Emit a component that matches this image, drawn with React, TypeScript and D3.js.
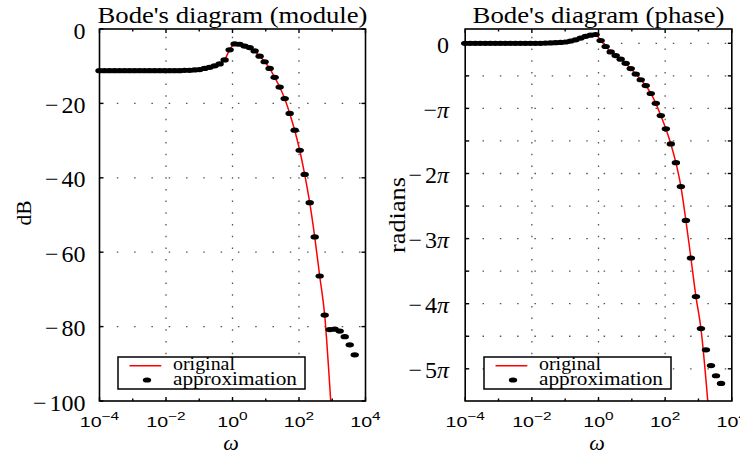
import * as d3 from "d3";

// frequencies of the approximation points (rad/s)
const omega = [
  1.0e-4, 1.41e-4, 2.0e-4, 2.83e-4, 4.0e-4, 5.66e-4, 8.0e-4, 1.13e-3, 1.6e-3, 2.26e-3, 3.2e-3, 4.53e-3, 6.4e-3,
  9.05e-3, 0.0128, 0.0181, 0.0256, 0.0362, 0.0512, 0.0724, 0.102, 0.145, 0.205, 0.29, 0.41, 0.579,
  0.819, 1.16, 1.64, 2.32, 3.28, 4.63, 6.55, 9.27, 13.1, 18.5, 26.2, 37.1, 52.4,
  74.1, 105, 148, 210, 297, 419, 593, 839, 1186, 1678, 2373, 3355, 4745,
];
const approxDb = [
  -11.2, -11.2, -11.2, -11.2, -11.2, -11.2, -11.2, -11.2, -11.2, -11.2, -11.2, -11.2, -11.2,
  -11.2, -11.2, -11.2, -11.2, -11.1, -11.1, -11.0, -10.9, -10.6, -10.3, -9.9, -9.4, -8.3,
  -5.6, -4.0, -4.1, -4.6, -5.0, -5.9, -7.3, -8.8, -10.6, -13.0, -15.6, -18.7, -22.7,
  -27.2, -32.6, -39.1, -46.7, -55.9, -66.4, -76.9, -80.8, -80.7, -81.2, -82.7, -84.9, -87.6,
];
const approxPhase = [
  0, 0, 0, 0, 0, 0, 0, 0, 0, 0, 0, 0, 0,
  0, 0, 0, 0.009, 0.019, 0.031, 0.041, 0.063, 0.11, 0.17, 0.254, 0.336, 0.393,
  0.424, 0.135, -0.154, -0.415, -0.594, -0.767, -0.968, -1.219, -1.483, -1.759, -2.039, -2.422, -2.897,
  -3.487, -4.128, -4.857, -5.762, -6.915, -8.548, -10.361, -12.224, -13.766, -14.794, -15.551, -16.044, -16.415,
];

// original transfer function
const origOmega = [
  1e-4, 0.01, 0.0512, 0.102, 0.205, 0.41, 0.579, 0.819, 1.16, 1.64, 2.32, 3.28, 4.63, 6.55, 9.27,
  13.1, 18.5, 26.2, 37.1, 52.4, 74.1, 105, 148, 210, 297, 419, 593, 839, 1186, 2000,
];
const origDb = [
  -11.2, -11.2, -11.1, -10.9, -10.3, -9.4, -8.3, -5.6, -4.0, -4.1, -4.6, -5.0, -5.9, -7.3, -8.8,
  -10.6, -13.0, -15.6, -18.7, -22.7, -27.2, -32.6, -39.1, -46.7, -55.9, -66.4, -76.9, -95.8, -117, -150,
];
const origPhase = [
  0, 0, 0.031, 0.063, 0.17, 0.336, 0.393, 0.424, 0.135, -0.154, -0.415, -0.594, -0.767, -0.968, -1.219,
  -1.483, -1.759, -2.039, -2.422, -2.897, -3.487, -4.128, -4.857, -5.762, -6.915, -8.548, -10.361, -12.224, -13.766, -17.69,
];

const decades = [1e-4, 1e-3, 1e-2, 1e-1, 1, 10, 1e2, 1e3, 1e4];
const labelledDecades = [1e-4, 1e-2, 1, 1e2, 1e4];
const decadeExponents = ["\u22124", "\u22122", "0", "2", "4"];
const gridDecades = [1e-2, 1, 1e2];

const dbTicks = [0, -20, -40, -60, -80, -100];
const dbLabels = ["0", "\u221220", "\u221240", "\u221260", "\u221280", "\u2212100"];
const piTicks = [0, -0.5, -1, -1.5, -2, -2.5, -3, -3.5, -4, -4.5, -5];
const piLabelTicks = [0, -1, -2, -3, -4, -5];
const piLabels = ["0", "\u2212\u03c0", "\u22122\u03c0", "\u22123\u03c0", "\u22124\u03c0", "\u22125\u03c0"];

const serif = "'Liberation Serif', 'DejaVu Serif', serif";
const sans = "'Liberation Sans', Arial, sans-serif";

const TOP = 29;
const BOTTOM = 401;

type PanelProps = {
  id: string;
  left: number;
  right: number;
  yDomain: [number, number];
  yTicks: number[];
  yLabelValues: number[];
  yLabels: string[];
  title: string;
  titleWidth: number;
  yTitle: string;
  yTitleX: number;
  yTitleY: number;
  yTitleSize: number;
  yTitleLen: number;
  labelX: number;
  approx: number[];
  orig: number[];
  legendX: number;
};

function TickLabel({ text, x, y }: { text: string; x: number; y: number }) {
  // minus sign, digits, italic pi
  let rest = text;
  let minus = false;
  if (rest.startsWith("\u2212")) {
    minus = true;
    rest = rest.slice(1);
  }
  let pi = false;
  if (rest.endsWith("\u03c0")) {
    pi = true;
    rest = rest.slice(0, -1);
  }
  return (
    <text x={x} y={y} textAnchor="end" fontFamily={serif} fontSize={24}>
      {minus && <tspan>{"\u2212"}</tspan>}
      {minus && <tspan dx={3}>{rest}</tspan>}
      {!minus && rest && <tspan>{rest}</tspan>}
      {pi && <tspan fontStyle="italic">{"\u03c0"}</tspan>}
    </text>
  );
}

function BodePanel(p: PanelProps) {
  const x = d3.scaleLog().domain([1e-4, 1e4]).range([p.left, p.right]);
  const y = d3.scaleLinear().domain(p.yDomain).range([BOTTOM, TOP]);
  const line = d3
    .line<number>()
    .x((_, i) => x(origOmega[i]))
    .y((d) => y(d))
    .curve(d3.curveMonotoneX);
  const mid = (p.left + p.right) / 2;
  const gridColor = "#555";

  return (
    <g>
      <defs>
        <clipPath id={`clip-${p.id}`}>
          <rect x={p.left} y={TOP} width={p.right - p.left} height={BOTTOM - TOP} />
        </clipPath>
      </defs>

      {/* grid */}
      {p.yTicks
        .filter((v) => y(v) > TOP + 2 && y(v) < BOTTOM - 2)
        .map((v) => (
          <line
            key={`hg${v}`}
            x1={p.left}
            x2={p.right}
            y1={y(v)}
            y2={y(v)}
            stroke={gridColor}
            strokeWidth={1.3}
            strokeDasharray="1.5 15.8"
          />
        ))}
      {gridDecades.map((d) => (
        <line
          key={`vg${d}`}
          x1={x(d)}
          x2={x(d)}
          y1={BOTTOM}
          y2={TOP}
          stroke={gridColor}
          strokeWidth={1.3}
          strokeDasharray="1.5 10.2"
        />
      ))}

      {/* original */}
      <path
        d={line(p.orig) ?? ""}
        fill="none"
        stroke="#ff0000"
        strokeWidth={1.5}
        clipPath={`url(#clip-${p.id})`}
      />

      {/* approximation */}
      {p.approx.map((v, i) => (
        <ellipse key={i} cx={x(omega[i])} cy={y(v)} rx={4.2} ry={2.6} fill="#000" />
      ))}

      {/* frame */}
      <rect
        x={p.left}
        y={TOP}
        width={p.right - p.left}
        height={BOTTOM - TOP}
        fill="none"
        stroke="#000"
        strokeWidth={1.6}
      />

      {/* ticks */}
      {p.yTicks.map((v) => (
        <g key={`yt${v}`} stroke="#000" strokeWidth={1.4}>
          <line x1={p.left} x2={p.left + 4} y1={y(v)} y2={y(v)} />
          <line x1={p.right} x2={p.right - 4} y1={y(v)} y2={y(v)} />
        </g>
      ))}
      {decades.map((d) => {
        const len = labelledDecades.includes(d) ? 4 : 2.5;
        return (
          <g key={`xt${d}`} stroke="#000" strokeWidth={1.4}>
            <line x1={x(d)} x2={x(d)} y1={BOTTOM} y2={BOTTOM - len} />
            <line x1={x(d)} x2={x(d)} y1={TOP} y2={TOP + len} />
          </g>
        );
      })}

      {/* tick labels */}
      {p.yLabelValues.map((v, i) => (
        <TickLabel key={`yl${v}`} text={p.yLabels[i]} x={p.labelX} y={y(v) + 9.5} />
      ))}
      {labelledDecades.map((d, i) => (
        <text
          key={`xl${d}`}
          transform={`translate(${x(d)},${427}) scale(1.4,1)`}
          textAnchor="middle"
          fontFamily={sans}
          fontSize={14}
        >
          10
          <tspan dy={-7} fontSize={11}>
            {decadeExponents[i]}
          </tspan>
        </text>
      ))}

      {/* titles */}
      <text
        x={mid}
        y={23}
        textAnchor="middle"
        fontFamily={serif}
        fontSize={23}
        textLength={p.titleWidth}
        lengthAdjust="spacingAndGlyphs"
      >
        {p.title}
      </text>
      <text
        transform={`translate(${p.yTitleX},${p.yTitleY}) rotate(-90)`}
        textAnchor="middle"
        fontFamily={serif}
        fontSize={p.yTitleSize}
        textLength={p.yTitleLen}
        lengthAdjust="spacingAndGlyphs"
      >
        {p.yTitle}
      </text>
      <text x={mid - 1.5} y={450} textAnchor="middle" fontFamily={serif} fontStyle="italic" fontSize={22}>
        {"\u03c9"}
      </text>

      {/* legend */}
      <g>
        <rect x={p.legendX} y={357} width={187} height={32} fill="#fff" stroke="#000" strokeWidth={1.5} />
        <line x1={p.legendX + 11.5} x2={p.legendX + 43.3} y1={365.7} y2={365.7} stroke="#ff0000" strokeWidth={1.5} />
        <text x={p.legendX + 55} y={369.5} fontFamily={serif} fontSize={18.5} textLength={62} lengthAdjust="spacingAndGlyphs">
          original
        </text>
        <ellipse cx={p.legendX + 29} cy={380} rx={4.2} ry={2.6} fill="#000" />
        <text x={p.legendX + 55} y={385} fontFamily={serif} fontSize={18.5} textLength={124} lengthAdjust="spacingAndGlyphs">
          approximation
        </text>
      </g>
    </g>
  );
}

export default function App() {
  const phaseTop = 0.69;
  const phaseBottom = -17.262;
  return (
    <svg
      width={740}
      height={456}
      viewBox="0 0 740 456"
      style={{ position: "absolute", left: 0, top: 0, background: "#fff" }}
    >
      <BodePanel
        id="mod"
        left={99.5}
        right={365.5}
        yDomain={[-100, 0]}
        yTicks={dbTicks}
        yLabelValues={dbTicks}
        yLabels={dbLabels}
        title="Bode's diagram (module)"
        titleWidth={270}
        yTitle="dB"
        yTitleX={30.5}
        yTitleY={213}
        yTitleSize={21}
        yTitleLen={25}
        labelX={85.5}
        approx={approxDb}
        orig={origDb}
        legendX={118}
      />
      <BodePanel
        id="pha"
        left={465.2}
        right={731.8}
        yDomain={[phaseBottom, phaseTop]}
        yTicks={piTicks.map((t) => t * Math.PI)}
        yLabelValues={piLabelTicks.map((t) => t * Math.PI)}
        yLabels={piLabels}
        title="Bode's diagram (phase)"
        titleWidth={252}
        yTitle="radians"
        yTitleX={405}
        yTitleY={215}
        yTitleSize={23}
        yTitleLen={76}
        labelX={449}
        approx={approxPhase}
        orig={origPhase}
        legendX={484}
      />
    </svg>
  );
}
